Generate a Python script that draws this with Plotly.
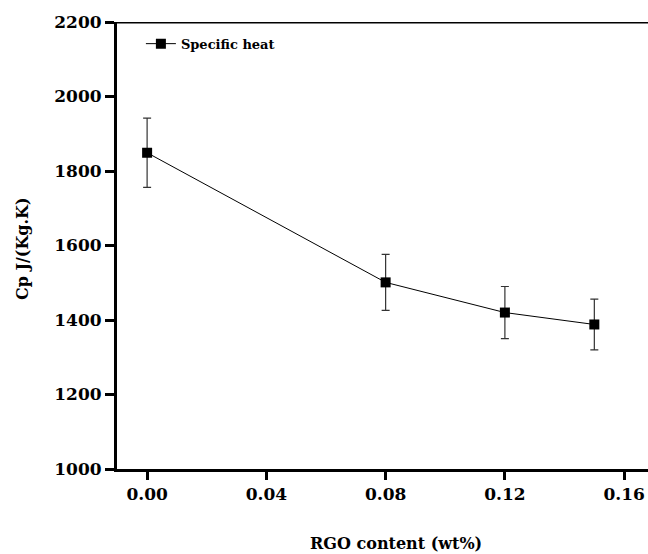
import plotly.graph_objects as go

rgo_content = [0.0, 0.08, 0.12, 0.15]
specific_heat = [1849, 1501, 1420, 1388]
error = [93, 75, 70, 68]
x_ticks = [0.0, 0.04, 0.08, 0.12, 0.16]
x_tick_labels = ["0.00", "0.04", "0.08", "0.12", "0.16"]
y_ticks = [1000, 1200, 1400, 1600, 1800, 2000, 2200]

font_family = "DejaVu Serif"

fig = go.Figure()
fig.add_trace(go.Scatter(
    x=rgo_content, y=specific_heat,
    mode="lines+markers",
    name="<b>Specific heat</b>",
    line=dict(color="black", width=1),
    marker=dict(symbol="square", size=10, color="black"),
    error_y=dict(type="data", array=error, visible=True, color="#333333", thickness=1.2, width=4),
))

fig.update_layout(
    width=648, height=554,
    margin=dict(l=117, r=0, t=22, b=85),
    plot_bgcolor="white", paper_bgcolor="white",
    font=dict(family=font_family, color="black"),
    showlegend=True,
    legend=dict(x=0.045, y=0.985, xanchor="left", yanchor="top",
                font=dict(size=13, family=font_family, color="black"),
                bgcolor="rgba(0,0,0,0)"),
    xaxis=dict(
        range=[-0.0101, 0.168],
        tickvals=x_ticks, ticktext=["<b>%s</b>" % t for t in x_tick_labels],
        showline=True, linecolor="black", linewidth=3,
        ticks="outside", ticklen=8, tickwidth=3, tickcolor="black",
        showgrid=False, zeroline=False,
        tickfont=dict(size=17, family=font_family, color="black"),
    ),
    yaxis=dict(
        range=[1000, 2200],
        tickvals=y_ticks, ticktext=["<b>%d</b>" % t for t in y_ticks],
        showline=True, linecolor="black", linewidth=3,
        ticks="outside", ticklen=9, tickwidth=3, tickcolor="black",
        showgrid=False, zeroline=False,
        tickfont=dict(size=17, family=font_family, color="black"),
    ),
    shapes=[dict(type="line", xref="paper", yref="y", x0=0, x1=1, y0=2200, y1=2200,
                 line=dict(color="black", width=3))],
    annotations=[
        dict(text="<b>RGO content (wt%)</b>", xref="paper", yref="paper", x=0.525, y=0,
             yshift=-74, xanchor="center", yanchor="middle", showarrow=False,
             font=dict(size=16, family=font_family, color="black")),
        dict(text="<b>Cp J/(Kg.K)</b>", xref="paper", yref="paper", x=0, y=0.492,
             xshift=-95, xanchor="center", yanchor="middle", showarrow=False, textangle=-90,
             font=dict(size=16, family=font_family, color="black")),
    ],
)

fig.write_html("out.html", config={"displayModeBar": False},
               post_script="document.body.style.margin='0';document.body.style.overflow='hidden';")
